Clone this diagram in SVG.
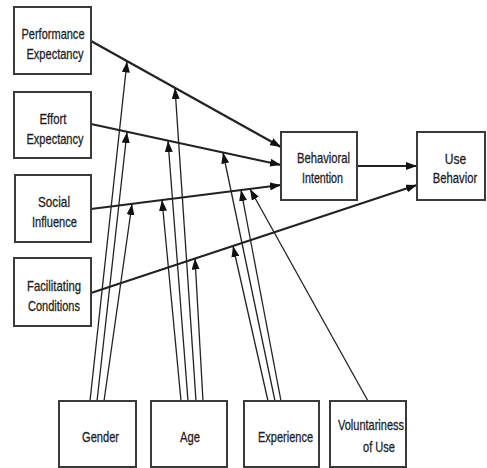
<svg xmlns="http://www.w3.org/2000/svg" width="487" height="468" viewBox="0 0 487 468">
<style>
.box{fill:#fff;stroke:#3a3a3a;stroke-width:2}
.t{font-family:"Liberation Sans Narrow","Liberation Sans",Arial,sans-serif;font-size:15px;fill:#1e1e1e;stroke:#1e1e1e;stroke-width:0.3;text-anchor:middle}
.main{stroke:#222;stroke-width:2.2;fill:none;marker-end:url(#ah)}
.mod{stroke:#222;stroke-width:1.3;fill:none;marker-end:url(#ah)}
</style>
<defs>
<marker id="ah" markerUnits="userSpaceOnUse" markerWidth="11" markerHeight="8" refX="11" refY="4" orient="auto">
<path d="M0,0 L11,4 L0,8 z" fill="#111"/>
</marker>
</defs>
<rect width="487" height="468" fill="#fff"/>
<g id="connectors">
<line class="main" x1="91" y1="41" x2="281" y2="147"/>
<line class="main" x1="91" y1="124" x2="281" y2="165"/>
<line class="main" x1="91" y1="209" x2="281" y2="185"/>
<line class="main" x1="357" y1="166" x2="417" y2="166"/>
<line class="main" x1="91" y1="293" x2="417" y2="185"/>
<line class="mod" x1="90" y1="401" x2="127" y2="61.5"/>
<line class="mod" x1="97" y1="401" x2="127" y2="132"/>
<line class="mod" x1="104" y1="401" x2="132" y2="204"/>
<line class="mod" x1="181" y1="401" x2="162" y2="200"/>
<line class="mod" x1="188" y1="401" x2="168" y2="141"/>
<line class="mod" x1="196" y1="401" x2="175" y2="88"/>
<line class="mod" x1="203" y1="401" x2="195" y2="258.5"/>
<line class="mod" x1="268" y1="401" x2="233" y2="246"/>
<line class="mod" x1="275" y1="401" x2="223" y2="152.5"/>
<line class="mod" x1="281" y1="401" x2="241" y2="190"/>
<line class="mod" x1="368" y1="401" x2="250" y2="189"/>
</g>
<g id="performance-expectancy">
<rect class="box" x="14" y="7" width="77" height="67"/>
<text class="t" x="53" y="39" textLength="63" lengthAdjust="spacingAndGlyphs">Performance</text>
<text class="t" x="55" y="59" textLength="57" lengthAdjust="spacingAndGlyphs">Expectancy</text>
</g>
<g id="effort-expectancy">
<rect class="box" x="14" y="92" width="77" height="66"/>
<text class="t" x="53" y="123.5" textLength="27" lengthAdjust="spacingAndGlyphs">Effort</text>
<text class="t" x="55" y="143.5" textLength="57" lengthAdjust="spacingAndGlyphs">Expectancy</text>
</g>
<g id="social-influence">
<rect class="box" x="15" y="175" width="76" height="67"/>
<text class="t" x="54" y="207" textLength="32" lengthAdjust="spacingAndGlyphs">Social</text>
<text class="t" x="54.5" y="227" textLength="45" lengthAdjust="spacingAndGlyphs">Influence</text>
</g>
<g id="facilitating-conditions">
<rect class="box" x="14" y="258" width="77" height="68"/>
<text class="t" x="54" y="290.5" textLength="54" lengthAdjust="spacingAndGlyphs">Facilitating</text>
<text class="t" x="54" y="310.5" textLength="52" lengthAdjust="spacingAndGlyphs">Conditions</text>
</g>
<g id="behavioral-intention">
<rect class="box" x="281" y="132" width="76" height="68"/>
<text class="t" x="323.5" y="163" textLength="53" lengthAdjust="spacingAndGlyphs">Behavioral</text>
<text class="t" x="322.5" y="183" textLength="41" lengthAdjust="spacingAndGlyphs">Intention</text>
</g>
<g id="use-behavior">
<rect class="box" x="417" y="132" width="68" height="68"/>
<text class="t" transform="translate(455.5,164) scale(0.8,1)">Use</text>
<text class="t" transform="translate(455,183) scale(0.75,1)">Behavior</text>
</g>
<g id="gender">
<rect class="box" x="59" y="401" width="77" height="66"/>
<text class="t" x="100.5" y="442" textLength="37" lengthAdjust="spacingAndGlyphs">Gender</text>
</g>
<g id="age">
<rect class="box" x="151" y="401" width="76" height="66"/>
<text class="t" x="190" y="442" textLength="20" lengthAdjust="spacingAndGlyphs">Age</text>
</g>
<g id="experience">
<rect class="box" x="244" y="401" width="75" height="66"/>
<text class="t" x="285.5" y="442" textLength="55" lengthAdjust="spacingAndGlyphs">Experience</text>
</g>
<g id="voluntariness-of-use">
<rect class="box" x="330" y="401" width="76" height="66"/>
<text class="t" x="371" y="430" textLength="66" lengthAdjust="spacingAndGlyphs">Voluntariness</text>
<text class="t" x="379" y="452" textLength="32" lengthAdjust="spacingAndGlyphs">of Use</text>
</g>
</svg>
